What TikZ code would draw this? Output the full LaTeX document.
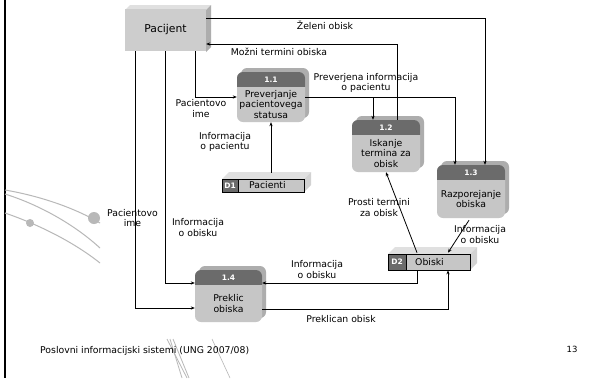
\documentclass[tikz,border=0pt]{standalone}
\usepackage{fontspec}
\setmainfont{DejaVu Sans}
\usetikzlibrary{calc,arrows.meta}
\definecolor{boxg}{HTML}{C6C6C6}
\definecolor{headg}{HTML}{6B6B6B}
\definecolor{sideg}{HTML}{ADADAD}
\definecolor{topg}{HTML}{E0E0E0}
\definecolor{decog}{HTML}{B8B8B8}
\definecolor{pacg}{HTML}{CDCDCD}
\newcommand\procbox[7]{% name, x1, y1, x2, y2, number, text
  \fill[sideg, rounded corners=6pt] ({#2+4},{#3-4}) rectangle ({#4+4},{#5-4});
  \node[fill=boxg, rounded corners=6pt, inner sep=0pt,
        minimum width={#4-#2}, minimum height={#5-#3},
        path picture={\fill[headg, sharp corners] ($(path picture bounding box.north west)+(-2,-2)$) rectangle ($(path picture bounding box.north east)+(2,15)$);}]
        (#1) at ({(#2+#4)/2},{(#3+#5)/2}) {};
  \node[numtxt] (#1n) at ({(#2+#4)/2},{#3+7.5}) {#6};
  \node[lbl] (#1t) at ({(#2+#4)/2},{(#3+15+#5)/2}) {#7};
}
\newcommand\storebox[6]{% name, x1, y1, x2, y2, label width
  \fill[topg] (#2,#3) -- ({#2+7},{#3-7}) -- ({#4+7},{#3-7}) -- (#4,#3) -- cycle;
  \fill[topg!85!gray] (#4,#3) -- ({#4+7},{#3-7}) -- ({#4+7},{#5-7}) -- (#4,#5) -- cycle;
  \node[draw=black, line width=0.7pt, fill=boxg, inner sep=0pt,
        minimum width={#4-#2}, minimum height={#5-#3}] (#1) at ({(#2+#4)/2},{(#3+#5)/2}) {};
  \fill[headg] (#2,#3) rectangle ({#2+#6},#5);
  \draw[line width=0.7pt] (#2,#3) rectangle (#4,#5);
  \draw[line width=0.7pt] ({#2+#6},#3) -- ({#2+#6},#5);
  \node[numtxt] (#1l) at ({#2+#6/2},{(#3+#5)/2}) {D#1};
}
\begin{document}
\begin{tikzpicture}[x=1pt,y=-1pt,
  font=\fontsize{9.3}{10.5}\selectfont,
  lbl/.style={align=center, inner sep=0pt, text=black},
  numtxt/.style={inner sep=0pt, text=white, font=\bfseries\fontsize{7.5}{8}\selectfont},
  arr/.style={draw=black, line width=0.8pt, -{Stealth[length=4pt,width=3.2pt]}},
  deco/.style={draw=decog, line width=1pt}]
\fill[white] (0,0) rectangle (609,378);
\useasboundingbox (0,0) rectangle (609,378);
% left border
\draw[line width=2.6pt] (5,0) -- (5,378);
% decorative curves
\draw[deco] (5,190) .. controls (40,196) and (75,208) .. (100,223);
\draw[deco] (5,194) .. controls (40,205) and (75,225) .. (100,248);
\draw[deco] (5,213) .. controls (40,225) and (75,243) .. (100,263);
\fill[decog] (94,218) circle (6);
\fill[decog] (30,223) circle (4);
\draw[decog, line width=0.8pt] (167,339) -- (187,378);
\draw[decog, line width=0.8pt] (170,339) -- (182,378);
\draw[decog, line width=0.8pt] (173,339) -- (189,378);
\draw[decog, line width=0.6pt] (212,339) -- (230,378);
% Pacijent
\fill[topg] (125,10) -- (130,5) -- (211,5) -- (206,10) -- cycle;
\fill[sideg] (206,10) -- (211,5) -- (211,47) -- (206,52) -- cycle;
\node[fill=pacg, minimum width=81, minimum height=42, inner sep=0pt,
      font=\fontsize{10.8}{12}\selectfont] (pac) at (165.5,30) {Pacijent};
% processes
\procbox{p11}{237}{72}{305}{122}{1.1}{Preverjanje\\pacientovega\\statusa}
\procbox{p12}{352}{120}{420}{172}{1.2}{Iskanje\\termina za\\obisk}
\procbox{p13}{437}{165}{505}{218}{1.3}{Razporejanje\\obiska}
\procbox{p14}{195}{270}{262}{322}{1.4}{Preklic\\obiska}
% stores
\storebox{1}{222}{179}{304}{192}{16}
\node[lbl, anchor=west] (d1t) at (249,185.5) {Pacienti};
\storebox{2}{388}{254}{470}{270}{18}
\node[lbl, anchor=west] (d2t) at (415,262) {Obiski};
% connectors
\draw[arr] (pac.east |- 0,18) -| ($(p13.north)+(14,0)$);
\draw[arr] ($(p12.north)+(11,0)$) |- (pac.east |- 0,44);
\draw[arr] (pac.south -| 195,0) |- (p11.west);
\draw[arr] (p11.east) -| ($(p13.north)+(-16,0)$);
\draw[arr] ($(p11.east -| p12.north)+(-13,0)$) -- ($(p12.north)+(-13,0)$);
\draw[arr] ($(1.north -| p11.south)+(0,-6)$) -- (p11.south);
\draw[arr] ($(2.north)+(-12,-1)$) -- (p12.south);
\draw[arr] ($(p13.south)+(-2,2)$) -- ($(2.north)+(19,-1)$);
\draw[arr] ($(2.south)+(-12,0)$) |- ($(p14.east)+(0,-13)$);
\draw[arr] ($(p14.east)+(0,13)$) -| ($(2.south)+(19,0)$);
\draw[arr] (pac.south -| 135,0) |- ($(p14.west)+(0,12)$);
\draw[arr] (pac.south -| 165,0) |- ($(p14.west)+(0,-13)$);
% labels
\node[lbl] (l1) at (325,25) {Želeni obisk};
\node[lbl] (l2) at (279,52) {Možni termini obiska};
\node[lbl] (l3) at (366,83) {Preverjena informacija\\o pacientu};
\node[lbl] (l4) at (201,108.5) {Pacientovo\\ime};
\node[lbl] (l5) at (225,142) {Informacija\\o pacientu};
\node[lbl] (l6) at (132.5,218) {Pacientovo\\ime};
\node[lbl] (l7) at (198,227.5) {Informacija\\o obisku};
\node[lbl] (l8) at (317,269.5) {Informacija\\o obisku};
\node[lbl] (l9) at (379,207.5) {Prosti termini\\za obisk};
\node[lbl] (l10) at (480,234.5) {Informacija\\o obisku};
\node[lbl] (l11) at (341,319) {Preklican obisk};
\node[lbl, anchor=west] (foot) at (40,351) {Poslovni informacijski sistemi (UNG 2007/08)};
\node[lbl, font=\fontsize{8.5}{9}\selectfont] (pg) at (572,349) {13};
\end{tikzpicture}
\end{document}
